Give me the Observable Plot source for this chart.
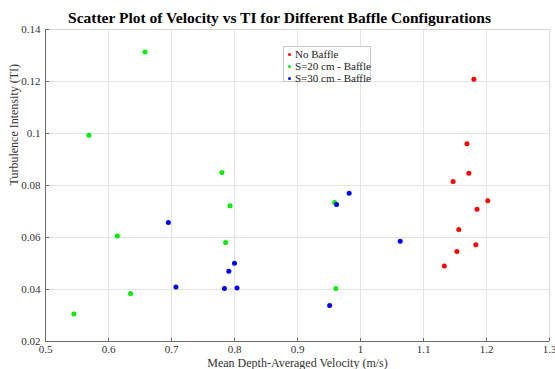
<!DOCTYPE html>
<html>
<head>
<meta charset="utf-8">
<script src="https://cdn.jsdelivr.net/npm/d3@7"></script>
<script src="https://cdn.jsdelivr.net/npm/@observablehq/plot@0.6"></script>
<style>
  html, body { margin: 0; padding: 0; background: #fff; }
  #wrap { position: relative; width: 555px; height: 369px; overflow: hidden; }
  #legend { position: absolute; left: 283px; top: 46px; width: 88px; height: 36px;
    border: 1px solid #c8c8c8; background: #fff; font-family: "Liberation Serif", serif;
    font-size: 11px; color: #222; box-sizing: border-box; }
  #legend .row { position: absolute; left: 4px; height: 12px; line-height: 12px; white-space: nowrap; }
  #legend .sw { display: inline-block; width: 3px; height: 3px; border-radius: 50%; margin-right: 4px; vertical-align: middle; position: relative; top: -1px; }
</style>
</head>
<body>
<div id="wrap"></div>
<script>
const title = "Scatter Plot of Velocity vs TI for Different Baffle Configurations";
const xLabel = "Mean Depth-Averaged Velocity (m/s)";
const yLabel = "Turbulence Intensity (TI)";
const xTicks = [0.5, 0.6, 0.7, 0.8, 0.9, 1.0, 1.1, 1.2, 1.3];
const yTicks = [0.02, 0.04, 0.06, 0.08, 0.10, 0.12, 0.14];
const seriesNames = ["No Baffle", "S=20 cm - Baffle", "S=30 cm - Baffle"];
const seriesColors = ["#ff0000", "#00ee00", "#0000ff"];

const noBaffleVel = [1.180, 1.169, 1.172, 1.147, 1.202, 1.185, 1.156, 1.183, 1.153, 1.133];
const noBaffleTI  = [0.1209, 0.0961, 0.0847, 0.0815, 0.0741, 0.0709, 0.0631, 0.0572, 0.0546, 0.0490];
const s20Vel = [0.658, 0.569, 0.780, 0.793, 0.614, 0.786, 0.635, 0.545, 0.959, 0.961];
const s20TI  = [0.1313, 0.0993, 0.0850, 0.0722, 0.0606, 0.0581, 0.0385, 0.0306, 0.0735, 0.0404];
const s30Vel = [0.695, 0.800, 0.791, 0.707, 0.784, 0.804, 0.982, 0.962, 1.063, 0.951];
const s30TI  = [0.0658, 0.0501, 0.0470, 0.0410, 0.0404, 0.0406, 0.0770, 0.0727, 0.0586, 0.0338];

const toRows = (xs, ys) => xs.map((x, i) => ({x, y: ys[i]}));
const series = [toRows(noBaffleVel, noBaffleTI), toRows(s20Vel, s20TI), toRows(s30Vel, s30TI)];

const fmt = d => String(+d.toFixed(2));
const font = "Liberation Serif, Times New Roman, serif";

const chart = Plot.plot({
  width: 555,
  height: 369,
  marginTop: 29,
  marginRight: 6,
  marginBottom: 28,
  marginLeft: 45,
  style: {fontFamily: font, fontSize: "11px", color: "#262626", background: "#fff"},
  x: {domain: [0.5, 1.3]},
  y: {domain: [0.02, 0.14]},
  marks: [
    Plot.gridX(xTicks, {stroke: "#e3e3e3", strokeOpacity: 1}),
    Plot.gridY(yTicks, {stroke: "#e3e3e3", strokeOpacity: 1}),
    Plot.frame({stroke: "#d6d6d6"}),
    Plot.ruleY([0.02], {stroke: "#6b6b6b"}),
    Plot.ruleX([0.5], {stroke: "#6b6b6b"}),
    Plot.ruleX(xTicks, {y1: 0.02, y2: 0.0212, stroke: "#6b6b6b"}),
    Plot.ruleY(yTicks, {x1: 0.5, x2: 0.5065, stroke: "#6b6b6b"}),
    Plot.axisX({ticks: xTicks, tickSize: 0, tickPadding: 4, tickFormat: fmt, label: null, fontSize: 11, fill: "#333"}),
    Plot.axisY({ticks: yTicks, tickSize: 0, tickPadding: 5, tickFormat: fmt, label: null, fontSize: 11, fill: "#333"}),
    ...series.map((rows, i) => Plot.dot(rows, {x: "x", y: "y", r: 2.5, fill: seriesColors[i], stroke: "none"})),
    Plot.text([title], {frameAnchor: "top", dx: -18, dy: -11, fontSize: 15.5, fontWeight: "bold", fill: "#000", lineAnchor: "middle"}),
    Plot.text([xLabel], {frameAnchor: "bottom", dy: 22, fontSize: 12, fill: "#333", lineAnchor: "middle"}),
    Plot.text([yLabel], {frameAnchor: "left", dx: -31, rotate: -90, fontSize: 12, fill: "#333", lineAnchor: "middle"})
  ]
});
const wrap = document.getElementById("wrap");
wrap.appendChild(chart);

const legend = document.createElement("div");
legend.id = "legend";
seriesNames.forEach((name, i) => {
  const row = document.createElement("div");
  row.className = "row";
  row.style.top = (1 + i * 12) + "px";
  const sw = document.createElement("span");
  sw.className = "sw";
  sw.style.background = seriesColors[i];
  row.appendChild(sw);
  row.appendChild(document.createTextNode(name));
  legend.appendChild(row);
});
wrap.appendChild(legend);
</script>
</body>
</html>
